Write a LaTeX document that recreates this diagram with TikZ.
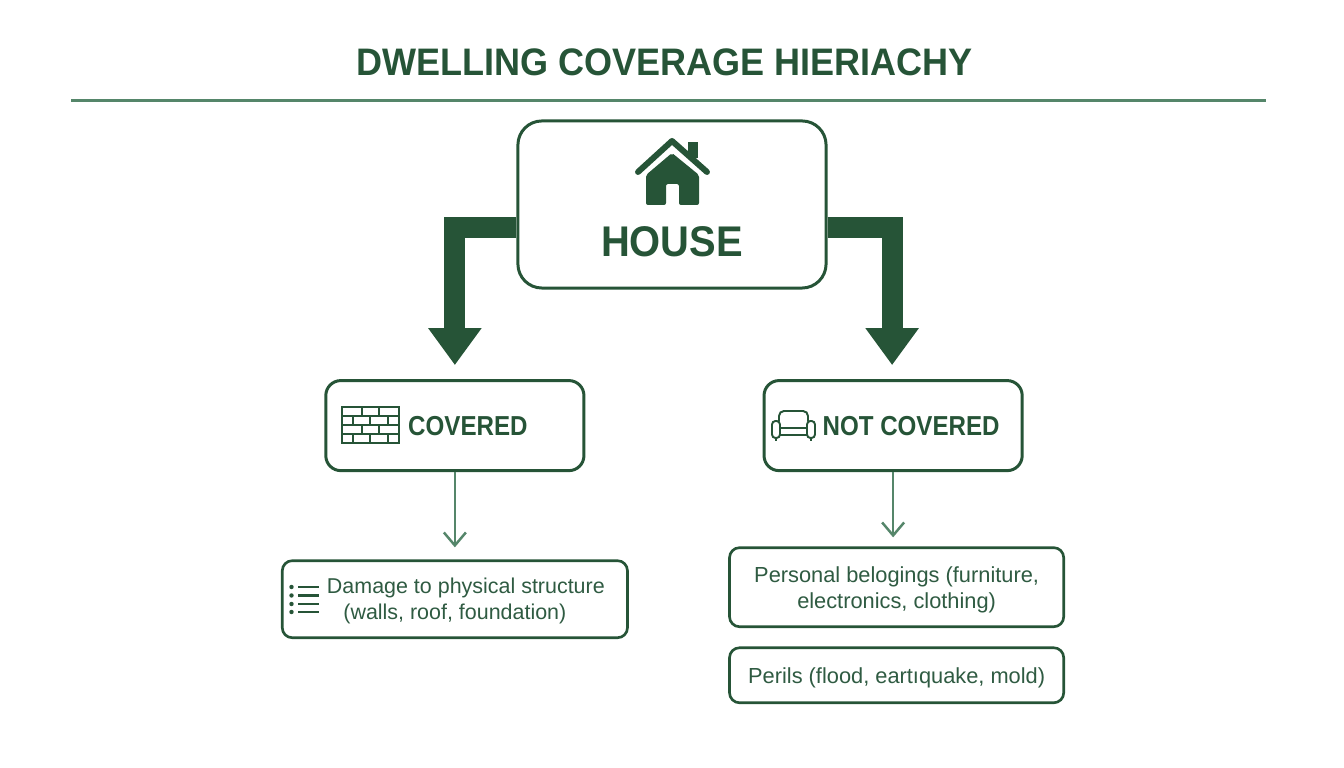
\documentclass[tikz,border=0pt]{standalone}
\usepackage{fontspec}
\setmainfont{Liberation Sans}
\newfontfamily\titlefont[FakeStretch=0.94]{Liberation Sans}
\newfontfamily\housefont[FakeStretch=0.93]{Liberation Sans}
\newfontfamily\headfont[FakeStretch=0.88]{Liberation Sans}
\usetikzlibrary{arrows.meta, backgrounds}
\definecolor{darkgreen}{HTML}{265437}
\definecolor{midgreen}{HTML}{55866A}
\definecolor{textgreen}{HTML}{2F5B42}

\begin{document}
\begin{tikzpicture}[x=0.01cm, y=-0.01cm, node distance=2cm, semithick]
\tikzstyle{housebox}=[draw=darkgreen, line width=0.85pt, fill=white, rounded corners=0.24cm, minimum width=3.08cm, minimum height=1.67cm, align=center, text=darkgreen, font=\housefont\bfseries\fontsize{12.2}{12.2}\selectfont]
\tikzstyle{headbox}=[draw=darkgreen, line width=0.85pt, fill=white, rounded corners=0.15cm, minimum width=2.58cm, minimum height=0.9cm, text=darkgreen, font=\headfont\bfseries\fontsize{7.8}{9}\selectfont]
\tikzstyle{itembox}=[draw=darkgreen, line width=0.75pt, fill=white, rounded corners=0.1cm, align=center, text=textgreen, inner sep=0pt, text depth=0pt, font=\fontsize{6.2}{7.4}\selectfont]
\tikzstyle{bigarrow}=[darkgreen, line width=0.21cm, -{Triangle[length=0.37cm, width=0.51cm]}, shorten >=0.14cm]
\tikzstyle{thinarrow}=[midgreen, line width=0.6pt, -{Straight Barb[length=0.13cm, width=0.22cm, line width=0.7pt]}]
\tikzstyle{icon}=[darkgreen, line width=0.55pt]

\useasboundingbox (0,0) rectangle (1344,768);

\node (title) at (664.5,62) {\textcolor{darkgreen}{\titlefont\bfseries\fontsize{10.9}{13}\selectfont DWELLING COVERAGE HIERIACHY}};
\coordinate (ruleleft) at (71,101);
\coordinate (ruleright) at (1266,101);
\draw[midgreen, line width=0.85pt] (ruleleft) -- (ruleright);

\node[housebox] (house) at (672,204.5) {\rule{0pt}{0.62cm}\\HOUSE};
\node[headbox] (covered) [below of=house, node distance=2.21cm, xshift=-2.17cm] {\hspace*{0.26cm}COVERED};
\node[headbox] (notcovered) [below of=house, node distance=2.21cm, xshift=2.21cm] {\hspace*{0.36cm}NOT COVERED};
\node[itembox, minimum width=3.45cm, minimum height=0.77cm, font=\fontsize{6.1}{7.4}\selectfont] (damage) [below of=covered, node distance=1.735cm] {\hspace*{0.22cm}Damage to physical structure\\(walls, roof, foundation)};
\node[itembox, minimum width=3.34cm, minimum height=0.79cm] (personal) [below of=notcovered, node distance=1.615cm, xshift=0.035cm] {Personal belogings (furniture,\\electronics, clothing)};
\node[itembox, minimum width=3.34cm, minimum height=0.55cm] (perils) [below of=personal, node distance=0.88cm] {Perils (flood, eartıquake, mold)};

\coordinate (leftout) at ([yshift=-0.23cm]house.west);
\coordinate (rightout) at ([yshift=-0.23cm]house.east);
\coordinate (rightin) at ([xshift=-0.01cm]notcovered.north);
% thick arrows go under the house box
\begin{scope}[on background layer]
\draw[bigarrow] (leftout) -| (covered.north);
\draw[bigarrow] (rightout) -| (rightin);
\end{scope}
\draw[thinarrow, shorten >=0.12cm] (covered.south) -- (covered.south |- damage.north);
\draw[thinarrow, shorten >=0.09cm] (notcovered.south) -- (notcovered.south |- personal.north);

% house icon
\fill[darkgreen] (688,142) rectangle (698,158);
\draw[darkgreen, line width=1.7pt, line cap=round, line join=round] (638,172) -- (672,141) -- (707,172);
\fill[darkgreen, rounded corners=0.02cm] (646,205) -- (646,175) -- (672,153) -- (699,175) -- (699,205) -- (679,205) -- (679,184) -- (666,184) -- (666,205) -- cycle;

% brick icon
\draw[icon] (342,407) rectangle (399,443);
\foreach \y in {416,425,434}
  \draw[icon] (342,\y) -- (399,\y);
\foreach \y in {407,425} \foreach \x in {362,379}
  \draw[icon] (\x,\y) -- (\x,\y+9);
\foreach \y in {416,434} \foreach \x in {353,370,388}
  \draw[icon] (\x,\y) -- (\x,\y+9);

% sofa icon
\draw[icon, rounded corners=0.05cm] (779,421) -- (779,411) -- (808,411) -- (808,421);
\draw[icon, rounded corners=0.035cm] (772,421) rectangle (780,438);
\draw[icon, rounded corners=0.035cm] (807,421) rectangle (815,438);
\draw[icon] (780,428) -- (807,428) (780,435) -- (807,435);
\draw[icon] (776,438) -- (776,441) (811,438) -- (811,441);

% list icon
\foreach \y in {587,595.5,604,612} {
  \fill[darkgreen] (291.5,\y) circle (0.022cm);
  \draw[icon, line width=0.6pt] (298,\y) -- (319,\y);
}
\end{tikzpicture}
\end{document}
